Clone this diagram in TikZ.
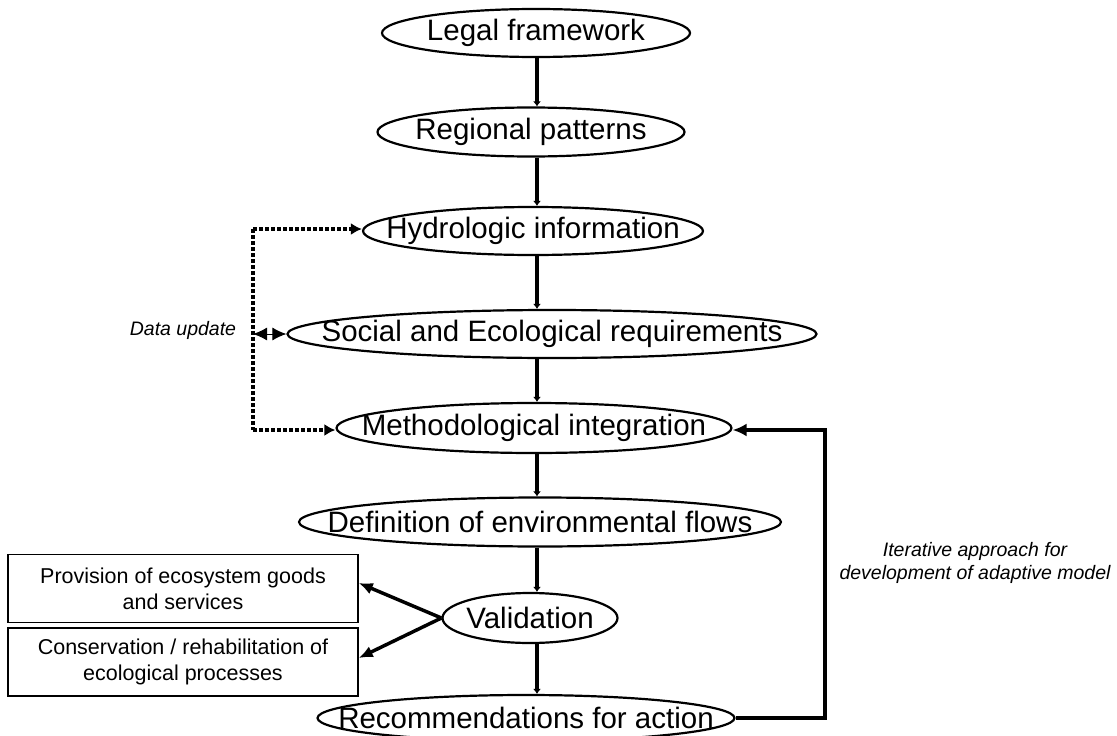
\documentclass[tikz,border=0pt]{standalone}
\usepackage{fontspec}
\setmainfont{Liberation Sans}
\usetikzlibrary{shapes.geometric,arrows.meta}
\begin{document}
\begin{tikzpicture}[x=1pt,y=-1pt,
  ell/.style={ellipse,draw,line width=2.2pt,inner sep=0pt,label={[font=\fontsize{29.5}{33}\selectfont,inner sep=0pt]center:#1}},
  sbox/.style={rectangle,draw,line width=1.5pt,inner sep=0pt,minimum width=350pt,minimum height=68pt,align=center,font=\fontsize{21.5}{26}\selectfont},
  flow/.style={line width=4pt,-{Latex[length=5pt,width=8pt]}},
  dotl/.style={line width=4pt,dash pattern=on 3.5pt off 2.5pt},
  fb/.style={line width=4pt,-{Latex[length=14pt,width=13pt]}},
  lab/.style={font=\fontsize{19.5}{23}\selectfont\itshape,align=center}]
\useasboundingbox (0,0) rectangle (1117,736);
\node[ell={Legal framework},minimum width=308pt,minimum height=48pt] (legal) at (536,33) {};
\node[ell={Regional patterns},minimum width=307pt,minimum height=49pt] (reg) at (531,132) {};
\node[ell={Hydrologic information},minimum width=340pt,minimum height=48pt] (hyd) at (533,231) {};
\node[ell={Social and Ecological requirements},minimum width=529pt,minimum height=48pt] (soc) at (552,334) {};
\node[ell={Methodological integration},minimum width=395pt,minimum height=50pt] (met) at (534,428) {};
\node[ell={Definition of environmental flows},minimum width=482pt,minimum height=49pt] (def) at (540,522) {};
\node[ell={Validation},minimum width=175pt,minimum height=50pt] (val) at (530,618) {};
\node[ell={Recommendations for action},minimum width=417pt,minimum height=46pt] (rec) at (526,718) {};
\node[sbox] (b1) at (183,588.5) {Provision of ecosystem goods\\and services};
\node[sbox] (b2) at (183,662) {Conservation / rehabilitation of\\ecological processes};
\node[lab] (du) at (183,330) {Data update};
\node[lab] (it) at (975,563) {Iterative approach for\\development of adaptive model};
\draw[flow] (legal.south -| 537,0) -- (reg.north -| 537,0);
\draw[flow] (reg.south -| 537,0) -- (hyd.north -| 537,0);
\draw[flow] (hyd.south -| 537,0) -- (soc.north -| 537,0);
\draw[flow] (soc.south -| 537,0) -- (met.north -| 537,0);
\draw[flow] (met.south -| 537,0) -- (def.north -| 537,0);
\draw[flow] (def.south -| 537,0) -- (val.north -| 537,0);
\draw[flow] (val.south -| 537,0) -- (rec.north -| 537,0);
\coordinate (dt) at (253,229);
\coordinate (db) at (253,430);
\coordinate (dm) at (253,334);
\draw[dotl] (dt) -- (db);
\draw[dotl,-{Latex[length=11pt,width=12pt]}] (dt) -- (hyd.west |- dt);
\draw[dotl,-{Latex[length=11pt,width=12pt]}] (db) -- (met.west |- db);
\draw[line width=1pt,{Latex[length=14pt,width=13pt]}-{Latex[length=14pt,width=13pt]}] (dm) -- (soc.west);
\draw[line width=3.5pt,-{Latex[length=14pt,width=12pt]}] (val.west) -- (b1.east |- 0,583);
\draw[line width=3.5pt,-{Latex[length=14pt,width=12pt]}] (val.west) -- (b2.east |- 0,658);
\coordinate (c1) at (825,718);
\coordinate (c2) at (825,430);
\draw[fb] (rec.east) -- (c1) -- (c2) -- (met.east |- c2);
\end{tikzpicture}
\end{document}
